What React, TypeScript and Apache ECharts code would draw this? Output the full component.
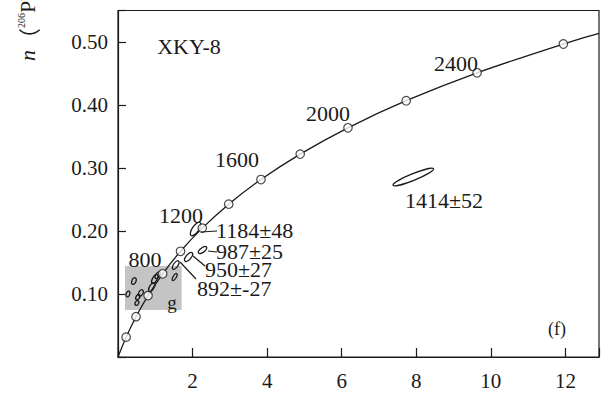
import React, { useEffect, useRef } from "react";
import * as echarts from "echarts";

// Concordia age markers (Ma) and their ratios
const concordiaAges = [200, 400, 600, 800, 1000, 1200, 1400, 1600, 1800, 2000, 2200, 2400, 2600];
const concordiaX = [0.218, 0.483, 0.806, 1.199, 1.677, 2.260, 2.970, 3.834, 4.887, 6.168, 7.729, 9.630, 11.944];
const concordiaY = [0.0315, 0.0640, 0.0975, 0.1321, 0.1678, 0.2046, 0.2426, 0.2817, 0.3221, 0.3638, 0.4068, 0.4511, 0.4968];
const curveStart = [0, 0];
const curveEnd = [12.9, 0.5136];

// Error ellipses: centre (x, y), major semi-axis vector (dx, dy), minor/major ratio
const ellipseX = [7.92, 2.08, 2.267, 1.893, 1.547, 1.52, 0.427, 0.267, 0.533, 0.613, 0.507, 0.907, 0.987, 1.067];
const ellipseY = [0.2857, 0.2032, 0.1698, 0.1587, 0.146, 0.127, 0.1206, 0.1, 0.0952, 0.1016, 0.0857, 0.111, 0.1238, 0.130];
const ellipseDx = [0.544, 0.122, 0.109, 0.094, 0.076, 0.053, 0.032, 0.027, 0.04, 0.047, 0.033, 0.067, 0.067, 0.061];
const ellipseDy = [0.013, 0.0104, 0.0046, 0.0067, 0.0065, 0.0055, 0.0052, 0.0045, 0.0041, 0.0048, 0.0034, 0.0069, 0.0069, 0.0052];
const ellipseRatio = [0.15, 0.4, 0.45, 0.45, 0.45, 0.4, 0.6, 0.6, 0.6, 0.6, 0.7, 0.45, 0.45, 0.5];

// Highlighted box "g"
const boxX = [0.187, 1.707];
const boxY = [0.0746, 0.1444];

const xTicks = [2, 4, 6, 8, 10, 12];
const yTicks = [0.1, 0.2, 0.3, 0.4, 0.5];

const ageLabels = ["2400", "2000", "1600", "1200", "800"];
const resultLabels = ["1184±48", "987±25", "950±27", "892±-27", "1414±52"];
const sampleName = "XKY-8";
const panelName = "(f)";
const boxName = "g";

const FONT = "'Liberation Serif', 'Times New Roman', 'Noto Sans CJK SC', serif";

export default function App() {
  const ref = useRef<HTMLDivElement>(null);
  useEffect(() => {
    if (!ref.current) return;
    const chart = echarts.init(ref.current, null, { renderer: "svg" });
    const curve = [curveStart, ...concordiaX.map((x, i) => [x, concordiaY[i]]), curveEnd];
    const markers = concordiaX.map((x, i) => [x, concordiaY[i], concordiaAges[i]]);
    const ellipses = ellipseX.map((x, i) => [x, ellipseY[i], ellipseDx[i], ellipseDy[i], ellipseRatio[i]]);
    const txt = (text: string, x: number, y: number, size = 22, align = "center") => ({
      type: "text",
      x,
      y,
      z: 100,
      style: { text, fill: "#1a1a1a", font: `${size}px ${FONT}`, textAlign: align, textVerticalAlign: "middle" },
    });
    const seg = (x1: number, y1: number, x2: number, y2: number) => ({
      type: "line",
      z: 100,
      shape: { x1, y1, x2, y2 },
      style: { stroke: "#1a1a1a", lineWidth: 1.2 },
    });
    chart.setOption({
      animation: false,
      backgroundColor: "#fff",
      grid: { left: 118, right: 0, top: 10.5, bottom: 36, show: true, borderColor: "#1a1a1a", borderWidth: 1.2, backgroundColor: "transparent" },
      xAxis: {
        type: "value",
        min: 0,
        max: 12.9,
        interval: 2,
        splitLine: { show: false },
        axisLine: { lineStyle: { color: "#1a1a1a", width: 1.2 } },
        axisTick: { inside: true, length: 9, lineStyle: { color: "#1a1a1a", width: 1.2 } },
        axisLabel: {
          margin: 13,
          color: "#1a1a1a",
          fontFamily: FONT,
          fontSize: 21,
          formatter: (v: number) => (xTicks.includes(v) ? String(v) : ""),
        },
      },
      yAxis: {
        type: "value",
        min: 0,
        max: 0.55,
        interval: 0.1,
        splitLine: { show: false },
        axisLine: { lineStyle: { color: "#1a1a1a", width: 1.2 } },
        axisTick: { inside: true, length: 8, lineStyle: { color: "#1a1a1a", width: 1.2 } },
        axisLabel: {
          margin: 10,
          color: "#1a1a1a",
          fontFamily: FONT,
          fontSize: 21,
          formatter: (v: number) => (yTicks.some((t) => Math.abs(t - v) < 1e-6) ? v.toFixed(2) : ""),
        },
      },
      series: [
        {
          type: "line",
          data: curve,
          smooth: 0.3,
          showSymbol: false,
          lineStyle: { color: "#1a1a1a", width: 1.3 },
          z: 3,
          markArea: {
            silent: true,
            itemStyle: { color: "#c4c4c4" },
            data: [[{ coord: [boxX[0], boxY[1]] }, { coord: [boxX[1], boxY[0]] }]],
          },
        },
        {
          type: "custom",
          z: 4,
          data: ellipses,
          renderItem: (params: any, api: any) => {
            const cx = api.value(0), cy = api.value(1), dx = api.value(2), dy = api.value(3), r = api.value(4);
            const p0 = api.coord([cx, cy]);
            const p1 = api.coord([cx + dx, cy + dy]);
            const vx = p1[0] - p0[0], vy = p1[1] - p0[1];
            const rx = Math.hypot(vx, vy);
            return {
              type: "ellipse",
              x: p0[0],
              y: p0[1],
              rotation: Math.atan2(-vy, vx),
              shape: { cx: 0, cy: 0, rx, ry: rx * r },
              style: { fill: "none", stroke: "#1a1a1a", lineWidth: 1.3 },
            };
          },
        },
        {
          type: "scatter",
          z: 5,
          data: markers,
          symbol: "circle",
          symbolSize: 8.5,
          itemStyle: { color: "#fff", borderColor: "#1a1a1a", borderWidth: 1.2 },
        },
      ],
      graphic: [
        {
          type: "text",
          x: 27,
          y: 61,
          rotation: Math.PI / 2,
          style: {
            text: "{i|n}{p|（}{s|206}Pb/{s|238}U{p|）}",
            fill: "#1a1a1a",
            font: `22px ${FONT}`,
            textAlign: "left",
            textVerticalAlign: "middle",
            rich: {
              i: { fontStyle: "italic", fontSize: 22, fontFamily: FONT, fill: "#1a1a1a" },
              p: { fontSize: 22, fontFamily: "'Noto Sans CJK SC', sans-serif", fill: "#1a1a1a" },
              s: { fontSize: 10, fontFamily: FONT, verticalAlign: "top", fill: "#1a1a1a", padding: [0, 0, 11, 0] },
            },
          },
        },
        txt(sampleName, 189, 46),
        txt(ageLabels[0], 456, 63),
        txt(ageLabels[1], 328, 113),
        txt(ageLabels[2], 237, 159),
        txt(ageLabels[3], 181, 215),
        txt(ageLabels[4], 145, 259),
        txt(resultLabels[0], 216, 230, 22, "left"),
        txt(resultLabels[1], 216, 251, 22, "left"),
        txt(resultLabels[2], 205, 269, 22, "left"),
        txt(resultLabels[3], 197, 288, 22, "left"),
        txt(resultLabels[4], 405, 200, 22, "left"),
        txt(panelName, 557, 329, 18),
        txt(boxName, 172, 302, 19),
        seg(201, 232, 217, 231),
        seg(208, 251, 217, 252),
        seg(193, 256, 205, 266),
        seg(180, 262, 196, 279),
      ],
    });
    return () => chart.dispose();
  }, []);
  return <div ref={ref} style={{ position: "absolute", left: 0, top: 0, width: 602, height: 393 }} />;
}
